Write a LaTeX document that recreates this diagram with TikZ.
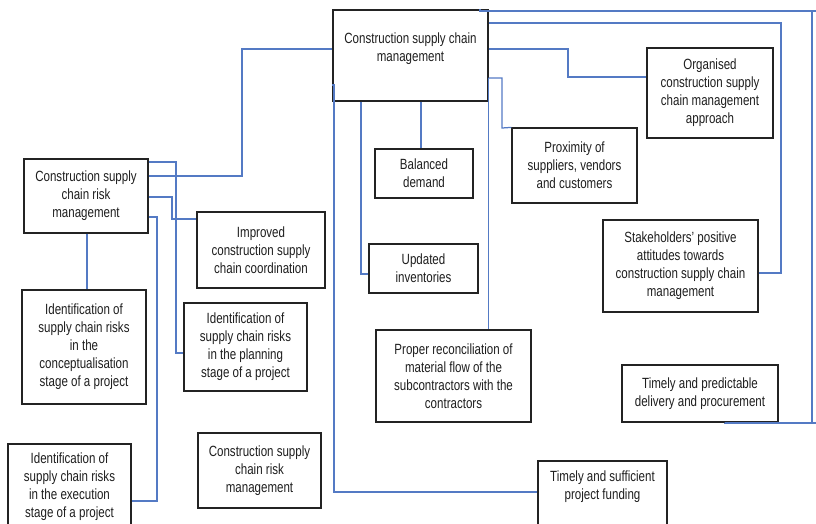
\documentclass[tikz,border=0pt]{standalone}
\usepackage{fontspec}
\setmainfont[FakeStretch=0.78]{Liberation Sans}
\definecolor{connblue}{RGB}{84,122,196}
\definecolor{boxline}{RGB}{35,35,35}
\definecolor{txt}{RGB}{30,30,30}
\begin{document}
\begin{tikzpicture}[x=1pt,y=-1pt,
  box/.style={draw=boxline,line width=1.2pt,fill=white,inner sep=0pt,align=center,text=txt,
    font=\fontsize{14.8}{18}\selectfont},
  plain/.style={inner sep=0pt,align=center,text=txt,font=\fontsize{14.8}{18}\selectfont},
  conn/.style={draw=connblue,line width=1.25pt}]
\useasboundingbox (0,0) rectangle (816,523);
\clip (0,0) rectangle (816,523);
% boxes
\node[box,minimum width=155,minimum height=91] (cscm) at (410.5,55.5) {};
\node[plain] (cscmt) at (410.5,49) {Construction supply chain\\management};
\node[box,minimum width=126,minimum height=90] (org) at (710,93) {Organised\\construction supply\\chain management\\approach};
\node[box,minimum width=125,minimum height=75] (prox) at (574.5,165.5) {Proximity of\\suppliers, vendors\\and customers};
\node[box,minimum width=98,minimum height=49] (bal) at (424,173.5) {Balanced\\demand};
\node[box,minimum width=109,minimum height=49] (upd) at (423.5,268.5) {Updated\\inventories};
\node[box,minimum width=155,minimum height=92] (stake) at (680.5,266) {Stakeholders' positive\\attitudes towards\\construction supply chain\\management};
\node[box,minimum width=155,minimum height=92] (proper) at (453.5,376) {Proper reconciliation of\\material flow of the\\subcontractors with the\\contractors};
\node[box,minimum width=156,minimum height=57] (tpred) at (700,393.5) {Timely and predictable\\delivery and procurement};
\node[box,minimum width=129,minimum height=79] (tsuff) at (602.5,500.5) {};
\node[plain] (tsufft) at (602.5,487) {Timely and sufficient\\project funding};
\node[box,minimum width=124,minimum height=74] (cscrm) at (86,196) {Construction supply\\chain risk\\management};
\node[box,minimum width=128,minimum height=76] (impr) at (261,250) {Improved\\construction supply\\chain coordination};
\node[box,minimum width=124,minimum height=114] (concept) at (84,347) {Identification of\\supply chain risks\\in the\\conceptualisation\\stage of a project};
\node[box,minimum width=123,minimum height=88] (plan) at (245.5,347) {Identification of\\supply chain risks\\in the planning\\stage of a project};
\node[box,minimum width=123,minimum height=75] (cscrmb) at (259.5,470.5) {Construction supply\\chain risk\\management};
\node[box,minimum width=123,minimum height=96] (exec) at (69.5,492) {};
\node[plain] (exect) at (69.5,487) {Identification of\\supply chain risks\\in the execution\\stage of a project};
% connectors
\draw[conn] (cscrm.east|-0,176) -- (242,176) -- (242,49) -- (cscm.west|-0,49);
\draw[conn] (cscrm.east|-0,162) -- (176,162) -- (176,353) -- (plan.west|-0,353);
\draw[conn] (cscrm.east|-0,197) -- (172,197) -- (172,219) -- (impr.west|-0,219);
\draw[conn] (cscrm.east|-0,217) -- (157,217) -- (157,501) -- (exec.east|-0,501);
\draw[conn] (cscrm.south-|87,0) -- (concept.north-|87,0);
\draw[conn] (cscm.west|-0,85) -- (334,85) -- (334,492) -- (tsuff.west|-0,492);
\draw[conn] (cscm.south-|361,0) -- (361,274) -- (upd.west|-0,274);
\draw[conn] (cscm.south-|421,0) -- (bal.north-|421,0);
\draw[conn] (cscm.east|-0,78) -- (502,78) -- (502,128) -- (prox.north west);
\draw[conn] (cscm.east|-0,78) -- (proper.north-|cscm.east);
\draw[conn] (cscm.east|-0,49) -- (568,49) -- (568,77) -- (org.west|-0,77);
\draw[conn] (cscm.east|-0,23) -- (781,23) -- (781,273) -- (stake.east|-0,273);
\draw[conn] (cscm.north-|480,0) -- (480,11) -- (820,11);
\draw[conn] (812,11) -- (812,423);
\draw[conn] (tpred.south-|725,0) -- (725,423) -- (820,423);
\end{tikzpicture}
\end{document}
